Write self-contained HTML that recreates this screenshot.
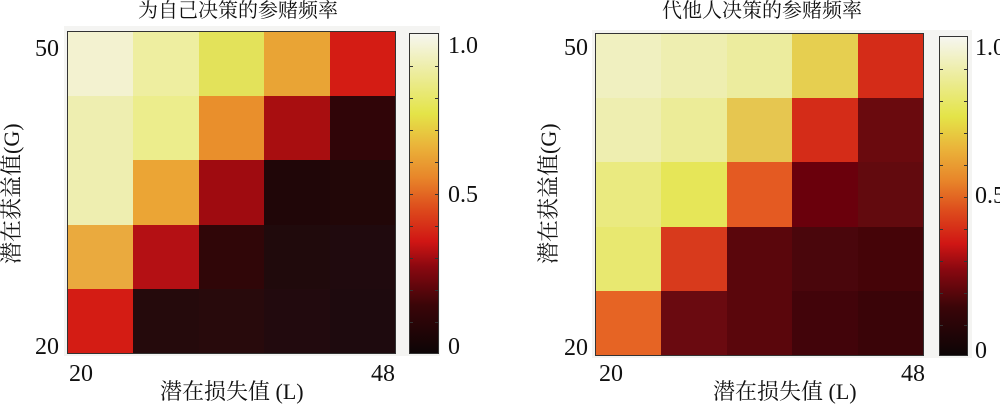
<!DOCTYPE html>
<html><head><meta charset="utf-8"><style>
body{margin:0;background:#fff;width:1000px;height:406px;overflow:hidden;position:relative;font-family:"Liberation Serif","DejaVu Serif",serif;color:#111}
.bg{position:absolute;background:#f4f4f2}
.grid{position:absolute;display:grid;grid-template-columns:repeat(5,1fr);grid-template-rows:repeat(5,1fr);border:1.5px solid #333;box-sizing:border-box}
.cb{position:absolute;border:1px solid #333;box-sizing:border-box;background:linear-gradient(to top,#0d0506 0%,#3a0508 15%,#8a0810 27%,#d01614 35%,#dd4a1c 45%,#e8862a 55%,#eab43a 65%,#e4e448 75%,#ecec98 87%,#f6f6f0 100%)}
.cb i{position:absolute;height:1px;width:3px;background:#333}
.t{position:absolute;font-size:24px;line-height:1;font-family:"Liberation Serif","DejaVu Serif",serif}
.tt{position:absolute;font-size:20px;font-family:"Liberation Serif","Noto Serif CJK SC",serif;line-height:1;white-space:nowrap}
.yl{position:absolute;font-size:22px;font-family:"Liberation Serif","Noto Serif CJK SC",serif;transform:rotate(-90deg);transform-origin:center;white-space:nowrap;line-height:1;text-align:center}
</style></head><body>
<div class="bg" style="left:64px;top:26px;width:376px;height:330px"></div>
<div class="bg" style="left:592px;top:30px;width:380px;height:328px"></div>

<div class="tt" style="left:138px;top:1px">为自己决策的参赌频率</div>
<div class="tt" style="left:662px;top:1px">代他人决策的参赌频率</div>

<div class="grid" style="left:67px;top:31px;width:329px;height:323px">
<div style="background:#f3f2d0"></div><div style="background:#eeeea0"></div><div style="background:#e3e25a"></div><div style="background:#e9a435"></div><div style="background:#d41c14"></div>
<div style="background:#eeeeb0"></div><div style="background:#eced8c"></div><div style="background:#e98f2c"></div><div style="background:#a80e10"></div><div style="background:#300508"></div>
<div style="background:#eeeeb0"></div><div style="background:#eba535"></div><div style="background:#9f0b10"></div><div style="background:#200608"></div><div style="background:#220708"></div>
<div style="background:#eaaa3e"></div><div style="background:#b41014"></div><div style="background:#300608"></div><div style="background:#200a0c"></div><div style="background:#200a0e"></div>
<div style="background:#d41c14"></div><div style="background:#250a0c"></div><div style="background:#280a0c"></div><div style="background:#220a0e"></div><div style="background:#1e0a0e"></div>
</div>
<div class="cb" style="left:409px;top:33px;width:30px;height:321px">
<i style="left:0;top:32px"></i><i style="left:0;top:64px"></i><i style="left:0;top:96px"></i><i style="left:0;top:128px"></i><i style="left:0;top:160px"></i><i style="left:0;top:192px"></i><i style="left:0;top:224px"></i><i style="left:0;top:256px"></i><i style="left:0;top:288px"></i>
<i style="right:0;top:32px"></i><i style="right:0;top:64px"></i><i style="right:0;top:96px"></i><i style="right:0;top:128px"></i><i style="right:0;top:160px"></i><i style="right:0;top:192px"></i><i style="right:0;top:224px"></i><i style="right:0;top:256px"></i><i style="right:0;top:288px"></i>
</div>

<div class="grid" style="left:595px;top:33px;width:329px;height:323px">
<div style="background:#f0f0c0"></div><div style="background:#eeeeb0"></div><div style="background:#ecec9e"></div><div style="background:#e6cf50"></div><div style="background:#d42c18"></div>
<div style="background:#eeeeb0"></div><div style="background:#ecec98"></div><div style="background:#e6c650"></div><div style="background:#d42c18"></div><div style="background:#6a0a0e"></div>
<div style="background:#eaea80"></div><div style="background:#e6e658"></div><div style="background:#e45a22"></div><div style="background:#6a000c"></div><div style="background:#620a0e"></div>
<div style="background:#e8e870"></div><div style="background:#d83a1c"></div><div style="background:#5a060c"></div><div style="background:#4a060c"></div><div style="background:#450408"></div>
<div style="background:#e66424"></div><div style="background:#6a0a10"></div><div style="background:#5a060c"></div><div style="background:#42040a"></div><div style="background:#3a0408"></div>
</div>
<div class="cb" style="left:939px;top:36px;width:29px;height:320px">
<i style="left:0;top:32px"></i><i style="left:0;top:64px"></i><i style="left:0;top:96px"></i><i style="left:0;top:128px"></i><i style="left:0;top:160px"></i><i style="left:0;top:192px"></i><i style="left:0;top:224px"></i><i style="left:0;top:256px"></i><i style="left:0;top:288px"></i>
<i style="right:0;top:32px"></i><i style="right:0;top:64px"></i><i style="right:0;top:96px"></i><i style="right:0;top:128px"></i><i style="right:0;top:160px"></i><i style="right:0;top:192px"></i><i style="right:0;top:224px"></i><i style="right:0;top:256px"></i><i style="right:0;top:288px"></i>
</div>

<div class="t" style="left:35px;top:37px">50</div>
<div class="t" style="left:35px;top:335px">20</div>
<div class="t" style="left:69px;top:362px">20</div>
<div class="t" style="left:371px;top:362px">48</div>
<div class="t" style="left:448px;top:34px">1.0</div>
<div class="t" style="left:448px;top:183px">0.5</div>
<div class="t" style="left:448px;top:335px">0</div>
<div class="tt" style="left:160px;top:381px;font-size:22px">潜在损失值 (L)</div>
<div class="yl" style="left:-58px;top:183px;width:140px">潜在获益值(G)</div>

<div class="t" style="left:564px;top:36px">50</div>
<div class="t" style="left:564px;top:336px">20</div>
<div class="t" style="left:599px;top:362px">20</div>
<div class="t" style="left:901px;top:362px">48</div>
<div class="t" style="left:975px;top:36px">1.0</div>
<div class="t" style="left:975px;top:184px">0.5</div>
<div class="t" style="left:975px;top:339px">0</div>
<div class="tt" style="left:713px;top:381px;font-size:22px">潜在损失值 (L)</div>
<div class="yl" style="left:479px;top:183px;width:140px">潜在获益值(G)</div>
</body></html>
